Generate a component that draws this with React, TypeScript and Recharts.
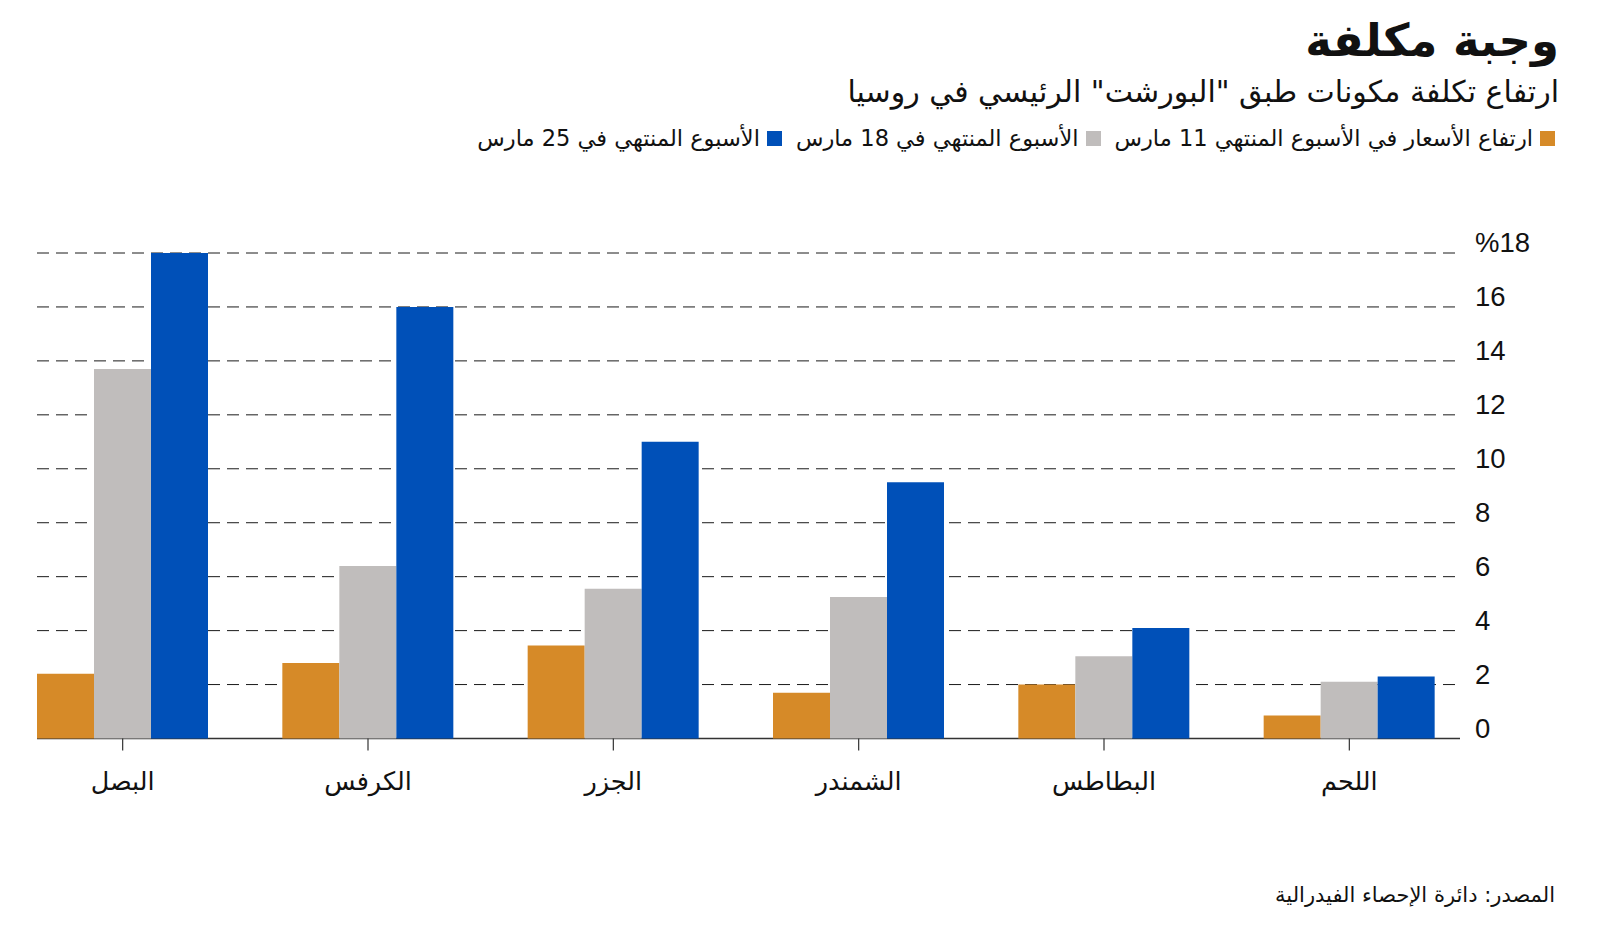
import { Bar, BarChart, CartesianGrid, XAxis, YAxis } from "recharts";

const categories = ["البصل", "الكرفس", "الجزر", "الشمندر", "البطاطس", "اللحم"];
const week11 = [2.4, 2.8, 3.45, 1.7, 2.0, 0.85];
const week18 = [13.7, 6.4, 5.55, 5.25, 3.05, 2.1];
const week25 = [18.0, 16.0, 11.0, 9.5, 4.1, 2.3];
const yTicks = [0, 2, 4, 6, 8, 10, 12, 14, 16, 18];

const seriesNames = [
  "ارتفاع الأسعار في الأسبوع المنتهي 11 مارس",
  "الأسبوع المنتهي في 18 مارس",
  "الأسبوع المنتهي في 25 مارس",
];
const seriesColors = ["#D68A28", "#C0BDBC", "#0050B8"];

const data = categories.map((name, i) => ({
  name,
  w11: week11[i],
  w18: week18[i],
  w25: week25[i],
}));

const W = 1600;
const H = 930;
const MARGIN = { top: 253, right: 0, bottom: 131.5, left: 0 };
const XAXIS_H = 60;
const YAXIS_W = 128;
const PLOT_BOTTOM = H - MARGIN.bottom - XAXIS_H;
const PLOT_RIGHT = W - YAXIS_W;

const arabic = "'DejaVu Sans', sans-serif";
const latin = "'Liberation Sans', Arial, sans-serif";

function gridLine(props: any) {
  const x1 = props.x1 + 37;
  const x2 = props.x2 - 12;
  if (Math.abs(props.y1 - PLOT_BOTTOM) < 1) {
    return (
      <line key={props.key} x1={x1} x2={x2} y1={props.y1} y2={props.y2} stroke="#333" strokeWidth={1.5} />
    );
  }
  return (
    <line
      key={props.key}
      x1={x1}
      x2={x2}
      y1={props.y1}
      y2={props.y2}
      stroke="#1a1a1a"
      strokeWidth={1}
      strokeDasharray="12 7"
    />
  );
}

function XTick(props: any) {
  return (
    <text
      x={props.x}
      y={props.y + 28}
      textAnchor="middle"
      dominantBaseline="central"
      fontFamily={arabic}
      fontSize={25.5}
      fill="#111"
    >
      {props.payload.value}
    </text>
  );
}

function YTick(props: any) {
  const v = props.payload.value;
  return (
    <text x={PLOT_RIGHT + 3} y={props.y - 1} textAnchor="start" fontFamily={latin} fontSize={27.5} fill="#111">
      {v === 18 ? "%18" : String(v)}
    </text>
  );
}

export default function App() {
  return (
    <div style={{ position: "absolute", left: 0, top: 0, width: W, height: H, background: "#fff", overflow: "hidden" }}>
      <div
        dir="rtl"
        style={{
          position: "absolute",
          right: 41,
          top: 14,
          fontFamily: arabic,
          fontWeight: 700,
          fontSize: 45,
          lineHeight: "54px",
          color: "#111",
          whiteSpace: "nowrap",
        }}
      >
        وجبة مكلفة
      </div>
      <div
        dir="rtl"
        style={{
          position: "absolute",
          right: 41,
          top: 72,
          fontFamily: arabic,
          fontSize: 30,
          lineHeight: "40px",
          color: "#111",
          whiteSpace: "nowrap",
        }}
      >
        ارتفاع تكلفة مكونات طبق "البورشت" الرئيسي في روسيا
      </div>
      <div
        dir="rtl"
        style={{
          position: "absolute",
          right: 45,
          top: 123,
          display: "flex",
          alignItems: "center",
          gap: 14,
          fontFamily: arabic,
          fontSize: 22.5,
          lineHeight: "30px",
          color: "#111",
          whiteSpace: "nowrap",
        }}
      >
        {seriesNames.map((n, i) => (
          <div key={n} style={{ display: "flex", alignItems: "center", gap: 7 }}>
            <span style={{ width: 15, height: 15, background: seriesColors[i], display: "inline-block" }} />
            <span>{n}</span>
          </div>
        ))}
      </div>

      <div style={{ position: "absolute", left: 0, top: 0 }}>
        <BarChart width={W} height={H} data={data} margin={MARGIN} barCategoryGap={37} barGap={0}>
          <CartesianGrid vertical={false} horizontal={gridLine} />
          <XAxis
            dataKey="name"
            height={XAXIS_H}
            axisLine={false}
            tickLine={{ stroke: "#333", strokeWidth: 1.2 }}
            tickSize={12}
            tick={<XTick />}
            interval={0}
          />
          <YAxis
            orientation="right"
            width={YAXIS_W}
            domain={[0, 18]}
            ticks={yTicks}
            axisLine={false}
            tickLine={false}
            tick={<YTick />}
            interval={0}
          />
          <Bar dataKey="w11" name={seriesNames[0]} fill={seriesColors[0]} isAnimationActive={false} />
          <Bar dataKey="w18" name={seriesNames[1]} fill={seriesColors[1]} isAnimationActive={false} />
          <Bar dataKey="w25" name={seriesNames[2]} fill={seriesColors[2]} isAnimationActive={false} />
        </BarChart>
      </div>

      <div
        dir="rtl"
        style={{
          position: "absolute",
          right: 45,
          top: 880,
          fontFamily: arabic,
          fontSize: 21,
          lineHeight: "30px",
          color: "#111",
          whiteSpace: "nowrap",
        }}
      >
        المصدر: دائرة الإحصاء الفيدرالية
      </div>
    </div>
  );
}
